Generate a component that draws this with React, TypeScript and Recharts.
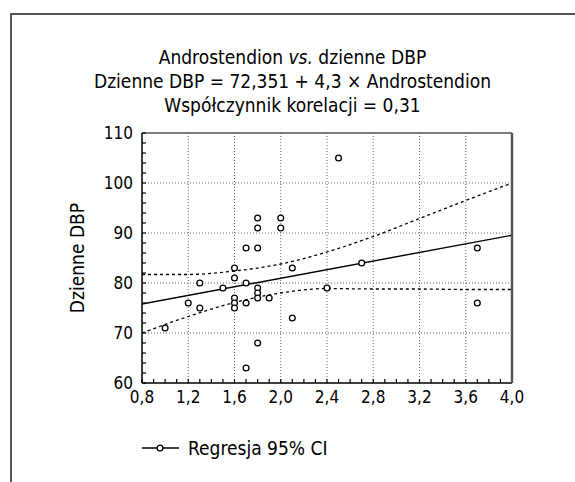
import React from 'react';
import { ComposedChart, XAxis, YAxis, Line, Scatter, ReferenceLine } from 'recharts';

const FONT = '"DejaVu Sans Condensed", "DejaVu Sans", sans-serif';

// observed points (Androstendion, Dzienne DBP)
const pointX = [1.0, 1.2, 1.3, 1.3, 1.5, 1.6, 1.6, 1.6, 1.6, 1.6, 1.7, 1.7, 1.7, 1.7, 1.8, 1.8, 1.8, 1.8, 1.8, 1.8, 1.8, 1.9, 2.0, 2.0, 2.1, 2.1, 2.4, 2.5, 2.7, 3.7, 3.7];
const pointY = [71, 76, 80, 75, 79, 83, 81, 77, 76, 75, 87, 80, 76, 63, 93, 91, 87, 79, 78, 77, 68, 77, 93, 91, 83, 73, 79, 105, 84, 87, 76];

// regression line
const regX = [0.8, 4.0];
const regY = [75.8, 89.55];

// 95% CI bands
const ciX = [0.8, 1.2, 1.6, 2.0, 2.4, 2.8, 3.2, 3.6, 4.0];
const ciUpper = [81.7, 81.7, 82.4, 83.8, 86.2, 89.3, 92.9, 96.5, 100.0];
const ciLower = [70.0, 73.3, 76.1, 78.0, 78.9, 78.8, 78.8, 78.7, 78.7];

// ticks
const xTicks = [0.8, 0.9, 1.0, 1.1, 1.2, 1.3, 1.4, 1.5, 1.6, 1.7, 1.8, 1.9, 2.0, 2.1, 2.2, 2.3, 2.4, 2.5, 2.6, 2.7, 2.8, 2.9, 3.0, 3.1, 3.2, 3.3, 3.4, 3.5, 3.6, 3.7, 3.8, 3.9, 4.0];
const xMajor = [0.8, 1.2, 1.6, 2.0, 2.4, 2.8, 3.2, 3.6, 4.0];
const yTicks = [60, 62, 64, 66, 68, 70, 72, 74, 76, 78, 80, 82, 84, 86, 88, 90, 92, 94, 96, 98, 100, 102, 104, 106, 108, 110];
const yMajor = [60, 70, 80, 90, 100, 110];
const xGrid = [1.2, 1.6, 2.0, 2.4, 2.8, 3.2, 3.6];
const yGrid = [70, 80, 90, 100];

const points = pointX.map((x, i) => ({ x, y: pointY[i] }));
const regData = regX.map((x, i) => ({ x, y: regY[i] }));
const upperData = ciX.map((x, i) => ({ x, y: ciUpper[i] }));
const lowerData = ciX.map((x, i) => ({ x, y: ciLower[i] }));

const isMajor = (v: number, list: number[]) => list.some((m) => Math.abs(m - v) < 1e-6);
const fmtX = (v: number) => (isMajor(v, xMajor) ? v.toFixed(1).replace('.', ',') : '');
const fmtY = (v: number) => (isMajor(v, yMajor) ? String(v) : '');

const OpenCircle = (props: any) => {
  const { cx, cy } = props;
  if (cx == null || cy == null) return null;
  return <circle cx={cx} cy={cy} r={2.9} fill="#fff" stroke="#000" strokeWidth={1.3} />;
};

export default function App() {
  const tickStyle = { fontFamily: FONT, fontSize: 17, fill: '#000' };
  return (
    <div style={{ position: 'absolute', left: 0, top: 0, width: 575, height: 482, background: '#fff', overflow: 'hidden' }}>
      <div
        style={{
          position: 'absolute',
          left: 10,
          top: 13,
          width: 565,
          height: 469,
          borderLeft: '2px solid #555',
          borderTop: '2px solid #555',
          boxSizing: 'border-box',
        }}
      />
      <div
        style={{
          position: 'absolute',
          left: 10,
          width: 565,
          top: 45,
          textAlign: 'center',
          fontFamily: FONT,
          fontSize: 19,
          lineHeight: '24px',
          color: '#000',
        }}
      >
        <div>
          Androstendion <i>vs.</i> dzienne DBP
        </div>
        <div>Dzienne DBP = 72,351 + 4,3 × Androstendion</div>
        <div>Współczynnik korelacji = 0,31</div>
      </div>
      <div style={{ position: 'absolute', left: 0, top: 0 }}>
        <ComposedChart width={575} height={482} margin={{ top: 132, left: 141, right: 62, bottom: 98 }}>
          <XAxis
            xAxisId="b"
            type="number"
            dataKey="x"
            domain={[0.8, 4.0]}
            ticks={xTicks}
            interval={0}
            tickFormatter={fmtX}
            tickSize={-4}
            tickMargin={12}
            height={1}
            allowDataOverflow
            axisLine={{ stroke: '#000', strokeWidth: 1.5 }}
            tickLine={{ stroke: '#000', strokeWidth: 1.2 }}
            tick={tickStyle}
          />
          <XAxis
            xAxisId="t"
            orientation="top"
            type="number"
            dataKey="x"
            domain={[0.8, 4.0]}
            ticks={xTicks}
            interval={0}
            tickSize={-4}
            height={1}
            tick={false}
            allowDataOverflow
            axisLine={{ stroke: '#555', strokeWidth: 1.5 }}
            tickLine={{ stroke: '#000', strokeWidth: 1.2 }}
          />
          <YAxis
            yAxisId="l"
            type="number"
            domain={[60, 110]}
            ticks={yTicks}
            interval={0}
            tickFormatter={fmtY}
            tickSize={-4}
            tickMargin={13}
            width={1}
            allowDataOverflow
            axisLine={{ stroke: '#000', strokeWidth: 1.5 }}
            tickLine={{ stroke: '#000', strokeWidth: 1.2 }}
            tick={tickStyle}
            label={{ value: 'Dzienne DBP', angle: -90, position: 'left', offset: 64, style: { fontFamily: FONT, fontSize: 19, fill: '#000', textAnchor: 'middle' } }}
          />
          <YAxis
            yAxisId="r"
            orientation="right"
            type="number"
            domain={[60, 110]}
            ticks={yTicks}
            interval={0}
            tickSize={-4}
            width={1}
            tick={false}
            allowDataOverflow
            axisLine={{ stroke: '#555', strokeWidth: 2.5 }}
            tickLine={{ stroke: '#000', strokeWidth: 1.5 }}
          />
          {xGrid.map((v) => (
            <ReferenceLine key={'gx' + v} xAxisId="b" yAxisId="l" x={v} stroke="#666" strokeWidth={1} strokeDasharray="1 2" />
          ))}
          {yGrid.map((v) => (
            <ReferenceLine key={'gy' + v} xAxisId="b" yAxisId="l" y={v} stroke="#666" strokeWidth={1} strokeDasharray="1 2" />
          ))}
          <Line xAxisId="b" yAxisId="l" data={upperData} dataKey="y" type="monotone" stroke="#000" strokeWidth={1.3} strokeDasharray="3 3" dot={false} isAnimationActive={false} legendType="none" />
          <Line xAxisId="b" yAxisId="l" data={lowerData} dataKey="y" type="monotone" stroke="#000" strokeWidth={1.3} strokeDasharray="3 3" dot={false} isAnimationActive={false} legendType="none" />
          <Line xAxisId="b" yAxisId="l" data={regData} dataKey="y" type="linear" stroke="#000" strokeWidth={1.4} dot={false} isAnimationActive={false} legendType="none" />
          <Scatter xAxisId="b" yAxisId="l" data={points} dataKey="y" shape={OpenCircle} isAnimationActive={false} name="Regresja 95% CI" />
        </ComposedChart>
      </div>
      <div
        style={{
          position: 'absolute',
          left: 142,
          top: 437,
          display: 'flex',
          alignItems: 'center',
          fontFamily: FONT,
          fontSize: 19,
          color: '#000',
        }}
      >
        <svg width={40} height={12} style={{ marginRight: 6 }}>
          <line x1={0} y1={6} x2={37} y2={6} stroke="#000" strokeWidth={1.3} />
          <circle cx={18} cy={6} r={2.9} fill="#fff" stroke="#000" strokeWidth={1.3} />
        </svg>
        <span>Regresja 95% CI</span>
      </div>
    </div>
  );
}
